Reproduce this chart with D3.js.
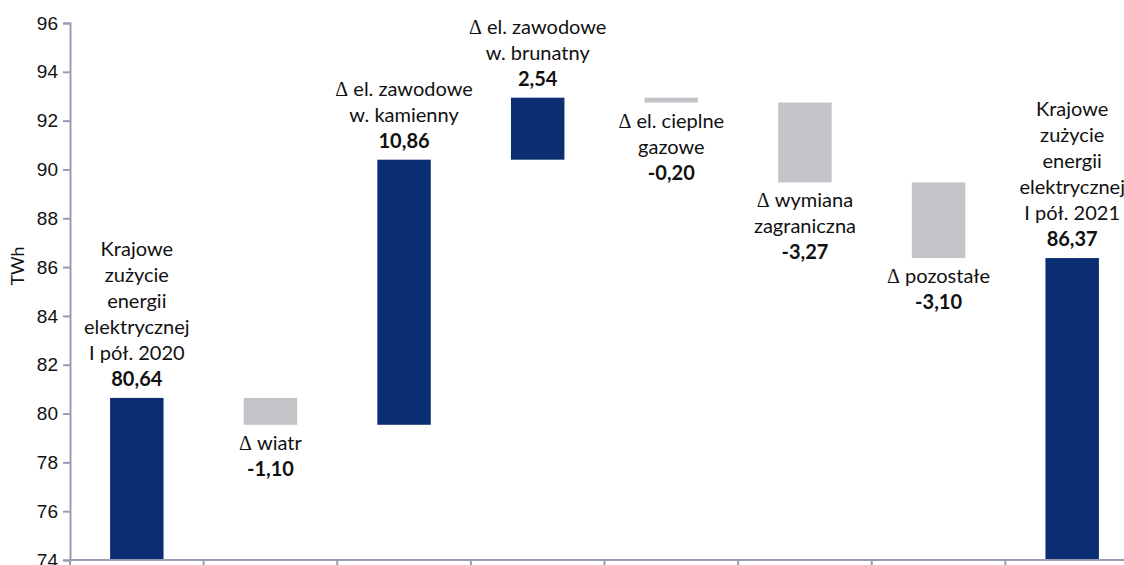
<!DOCTYPE html>
<html>
<head>
<meta charset="utf-8">
<script src="https://cdn.jsdelivr.net/npm/d3@7"></script>
<style>
  html, body { margin: 0; padding: 0; background: #fff; overflow: hidden; }
  svg { display: block; font-family: Lato, "Open Sans", sans-serif; }
</style>
</head>
<body>
<svg id="chart" width="1124" height="565"></svg>
<script>
// Waterfall: national electricity consumption H1 2020 -> H1 2021 (TWh)
const categories = ["start", "wiatr", "kamienny", "brunatny", "gazowe", "wymiana", "pozostale", "end"];
const labelLines = [
  ["Krajowe", "zużycie", "energii", "elektrycznej", "I pół. 2020"],
  ["\u0394 wiatr"],
  ["\u0394 el. zawodowe", "w. kamienny"],
  ["\u0394 el. zawodowe", "w. brunatny"],
  ["\u0394 el. cieplne", "gazowe"],
  ["\u0394 wymiana", "zagraniczna"],
  ["\u0394 pozostałe"],
  ["Krajowe", "zużycie", "energii", "elektrycznej", "I pół. 2021"]
];
const values = [80.64, -1.10, 10.86, 2.54, -0.20, -3.27, -3.10, 86.37];
const isTotal = [true, false, false, false, false, false, false, true];
const yTicks = [74, 76, 78, 80, 82, 84, 86, 88, 90, 92, 94, 96];

const NAVY = "#0b2d72";
const GREY = "#c3c4c8";
const AXIS = "#9a9cb6";

const svg = d3.select("#chart");
const x0 = 70, x1 = 1139, yTop = 23, yBottom = 560;

const x = d3.scaleBand().domain(categories).range([x0, x1]).padding(0);
const y = d3.scaleLinear().domain([74, 96]).range([yBottom, yTop]);

// running totals for the floating bars
let run = 0;
const bars = categories.map((c, i) => {
  let start, endv;
  if (isTotal[i]) { start = 74; endv = values[i]; run = values[i]; }
  else { start = run; endv = run + values[i]; run = endv; }
  return { c, i, lo: Math.min(start, endv), hi: Math.max(start, endv),
           v: values[i], total: isTotal[i], up: isTotal[i] || values[i] > 0 };
});

const barW = x.bandwidth() * 0.4;

svg.append("g").selectAll("rect").data(bars).join("rect")
  .attr("x", d => x(d.c) + (x.bandwidth() - barW) / 2)
  .attr("y", d => y(d.hi))
  .attr("width", barW)
  .attr("height", d => y(d.lo) - y(d.hi))
  .attr("fill", d => (d.total || d.v > 0) ? NAVY : GREY);

// axes
const yAxis = svg.append("g").attr("transform", `translate(${x0},0)`)
  .call(d3.axisLeft(y).tickValues(yTicks).tickSize(7).tickPadding(5).tickFormat(d3.format("d")));
yAxis.select(".domain").attr("stroke", AXIS).attr("stroke-width", 2);
yAxis.selectAll(".tick line").attr("stroke", AXIS).attr("stroke-width", 2);
yAxis.selectAll(".tick text").attr("fill", "#111").style("font-size", "19px");

const xAxis = svg.append("g").attr("transform", `translate(0,${yBottom})`);
xAxis.append("line").attr("x1", x0).attr("x2", x1).attr("y1", 0).attr("y2", 0)
  .attr("stroke", AXIS).attr("stroke-width", 2);
const bounds = categories.map(c => x(c)).concat([x1]);
xAxis.selectAll("line.tk").data(bounds).join("line").attr("class", "tk")
  .attr("x1", d => d).attr("x2", d => d).attr("y1", 0).attr("y2", 7)
  .attr("stroke", AXIS).attr("stroke-width", 2);

// y title
svg.append("text")
  .attr("transform", `translate(24,266) rotate(-90)`)
  .attr("text-anchor", "middle")
  .style("font-size", "18px")
  .attr("fill", "#111")
  .text("TWh");

// bar labels
const fmt = v => (v < 0 ? "-" : "") + Math.abs(v).toFixed(2).replace(".", ",");
const lineH = 26;
bars.forEach(d => {
  const lines = labelLines[d.i];
  const cx = x(d.c) + x.bandwidth() / 2;
  const all = lines.map(t => ({ t, bold: false })).concat([{ t: fmt(d.v), bold: true }]);
  const g = svg.append("g");
  const firstY = d.up
    ? y(d.hi) - 19 - (all.length - 1) * lineH   // stacked above the bar top
    : y(d.lo) + 18;                             // hanging below the bar bottom
  all.forEach((l, k) => {
    const t = g.append("text")
      .attr("x", cx)
      .attr("y", firstY + k * lineH)
      .attr("dy", "0.35em")
      .attr("text-anchor", "middle")
      .style("font-size", "20px")
      .style("font-weight", l.bold ? "bold" : "normal")
      .attr("fill", "#111");
    if (l.t.startsWith("\u0394")) {
      t.append("tspan").style("font-family", "'Liberation Serif', 'DejaVu Serif', serif").text("\u0394");
      t.append("tspan").text(l.t.slice(1));
    } else {
      t.text(l.t);
    }
  });
});
</script>
</body>
</html>
